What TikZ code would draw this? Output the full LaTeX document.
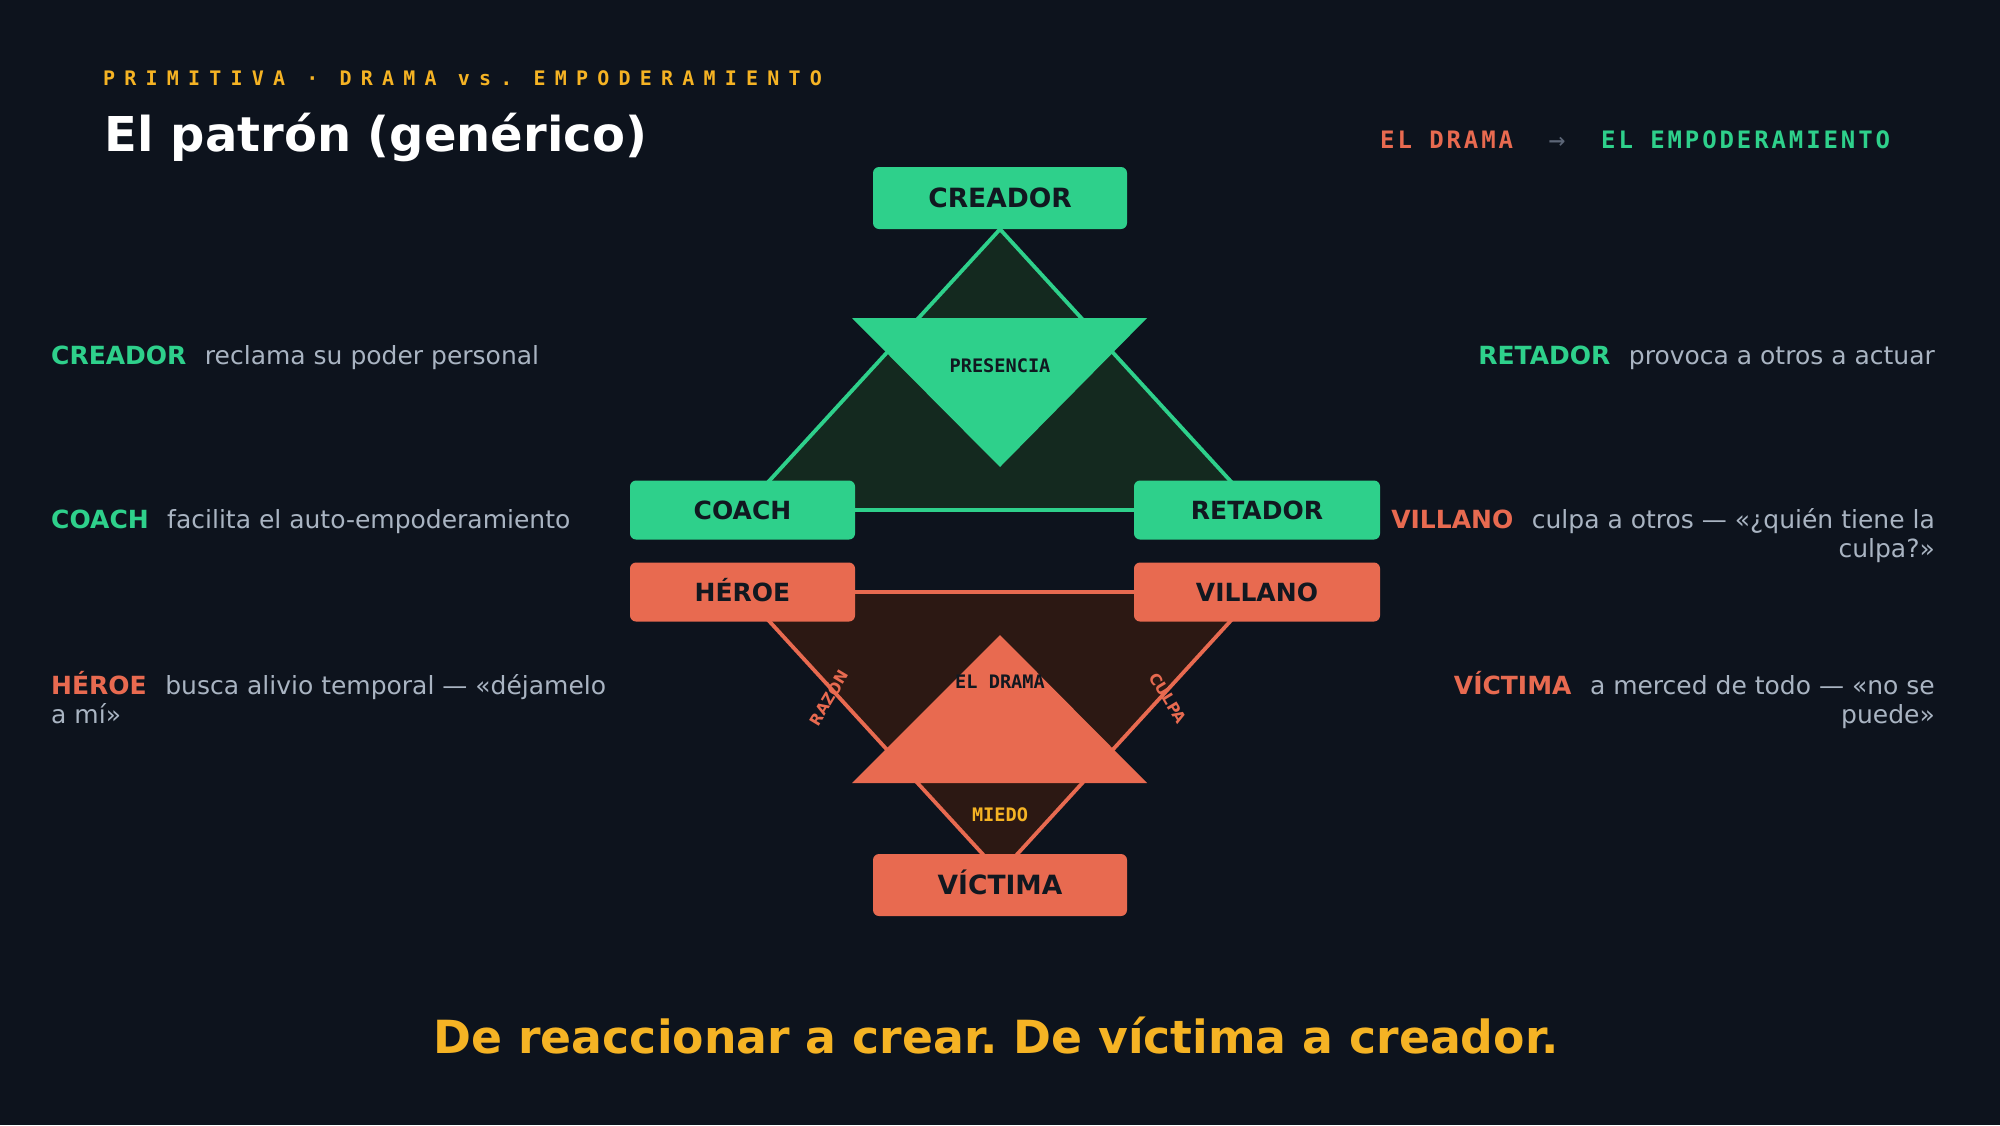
\documentclass[tikz,border=0pt]{standalone}
\usepackage{fontspec}
\setmainfont{DejaVu Sans}
\newfontfamily\monoFont{DejaVu Sans Mono}
\newfontfamily\wideMono[LetterSpace=46]{DejaVu Sans Mono}
\newfontfamily\tagMono[LetterSpace=12]{DejaVu Sans Mono}
\usepackage{xcolor}
\usepackage{tikz}
\definecolor{pageBg}{HTML}{0D131D}
\definecolor{empGreen}{HTML}{2ED08B}
\definecolor{empShade}{HTML}{14291F}
\definecolor{dramCoral}{HTML}{E86A50}
\definecolor{dramShade}{HTML}{2C1813}
\definecolor{amberInk}{HTML}{F5B324}
\definecolor{boxInk}{HTML}{111820}
\definecolor{descInk}{HTML}{A9B4C2}
\definecolor{arrowInk}{HTML}{5C6677}
\newcommand{\sideTag}[2]{{\color{#1}\bfseries #2}\hspace{18.5pt}}
\newcommand{\graphLineWidth}{3.8pt}
\pgfdeclarelayer{backdrop}
\pgfdeclarelayer{shapes}
\pgfsetlayers{backdrop,shapes,main}
\frenchspacing

\begin{document}
\begin{tikzpicture}[x=1pt,y=-1pt,
	role/.style={rounded corners=6pt,inner sep=0pt,text=boxInk,font=\bfseries\fontsize{25}{30}\selectfont,minimum height=59pt,text height=18.2pt,text depth=0pt},
	roleBig/.style={role,minimum width=254pt,minimum height=62pt,font=\bfseries\fontsize{26.5}{32}\selectfont,text height=19.3pt},
	triText/.style={inner sep=0pt,font=\monoFont\bfseries\fontsize{18.6}{22}\selectfont,text height=13.6pt,text depth=0pt},
	edgeTag/.style={inner sep=0pt,text=dramCoral,font=\bfseries\fontsize{15.5}{18}\selectfont,text height=11.3pt,text depth=0pt},
	sideNote/.style={inner sep=0pt,text=descInk,font=\fontsize{25}{29}\selectfont}]
	\begin{pgfonlayer}{backdrop}
		\fill[pageBg] (0,0) rectangle (2000,1125);
	\end{pgfonlayer}
	\useasboundingbox (0,0) rectangle (2000,1125);

	% header
	\node[anchor=base west,inner sep=0pt,text=amberInk,font=\wideMono\bfseries\fontsize{20}{24}\selectfont] (kicker) at (103,85.5) {PRIMITIVA · DRAMA vs. EMPODERAMIENTO};
	\node[anchor=base west,inner sep=0pt,text=white,font=\bfseries\fontsize{48}{56}\selectfont] (title) at (104.5,151) {El patrón (genérico)};
	\node[anchor=base west,inner sep=0pt,text=dramCoral,font=\tagMono\bfseries\fontsize{24}{28}\selectfont] (dramaTag) at (1380,148) {EL DRAMA};
	\node[anchor=base,inner sep=0pt,text=arrowInk,font=\monoFont\fontsize{28}{32}\selectfont] (tagArrow) at (1557,149) {→};
	\node[anchor=base west,inner sep=0pt,text=empGreen,font=\tagMono\bfseries\fontsize{24}{28}\selectfont] (empTag) at (1601,148) {EL EMPODERAMIENTO};

	% roles
	\node[roleBig,fill=empGreen] (creador) at (1000,198) {CREADOR};
	\node[role,fill=empGreen,minimum width=225pt] (coach) at (742.5,510) {COACH};
	\node[role,fill=empGreen,minimum width=246pt] (retador) at (1257,510) {RETADOR};
	\node[role,fill=dramCoral,minimum width=225pt] (heroe) at (742.5,592) {HÉROE};
	\node[role,fill=dramCoral,minimum width=246pt] (villano) at (1257,592) {VILLANO};
	\node[roleBig,fill=dramCoral] (victima) at (1000,885) {VÍCTIMA};

	\coordinate (dramaApex) at (1000,873);
	\coordinate (presL) at (852,318);
	\coordinate (presR) at (1147,318);
	\coordinate (presTip) at (1000,467);
	\coordinate (dramL) at (852,783);
	\coordinate (dramR) at (1147,783);
	\coordinate (dramTip) at (1000,635);

	% triangles
	\begin{pgfonlayer}{shapes}
		\draw[line width=\graphLineWidth,draw=empGreen,fill=empShade] (creador.south) -- (coach.center) -- (retador.center) -- cycle;
		\draw[line width=\graphLineWidth,draw=dramCoral,fill=dramShade] (heroe.center) -- (villano.center) -- (dramaApex) -- cycle;
		\fill[empGreen] (presL) -- (presR) -- (presTip) -- cycle;
		\fill[dramCoral] (dramL) -- (dramR) -- (dramTip) -- cycle;
	\end{pgfonlayer}

	\node[triText,text=boxInk] (presencia) at (1000,366) {PRESENCIA};
	\node[triText,text=boxInk] (elDrama) at (1000,682) {EL DRAMA};
	\node[triText,text=amberInk] (miedo) at (1000,815) {MIEDO};
	\node[edgeTag,rotate=59] (razon) at (829,698) {RAZÓN};
	\node[edgeTag,rotate=-59] (culpa) at (1168,698) {CULPA};

	% side notes
	\node[sideNote,anchor=base west] (noteCreador) at (51,364) {\sideTag{empGreen}{CREADOR}reclama su poder personal};
	\node[sideNote,anchor=base west] (noteCoach) at (51,528) {\sideTag{empGreen}{COACH}facilita el auto-empoderamiento};
	\node[sideNote,anchor=base west] (noteHeroe) at (51,694) {\sideTag{dramCoral}{HÉROE}busca alivio temporal — «déjamelo};
	\node[sideNote,anchor=base west] (noteHeroeB) at (51,723) {a mí»};
	\node[sideNote,anchor=base east] (noteRetador) at (1935,364) {\sideTag{empGreen}{RETADOR}provoca a otros a actuar};
	\node[sideNote,anchor=base east] (noteVillano) at (1935,528) {\sideTag{dramCoral}{VILLANO}culpa a otros — «¿quién tiene la};
	\node[sideNote,anchor=base east] (noteVillanoB) at (1935,557) {culpa?»};
	\node[sideNote,anchor=base east] (noteVictima) at (1935,694) {\sideTag{dramCoral}{VÍCTIMA}a merced de todo — «no se};
	\node[sideNote,anchor=base east] (noteVictimaB) at (1935,723) {puede»};

	% tagline
	\node[anchor=base,inner sep=0pt,text=amberInk,font=\bfseries\fontsize{45.7}{54}\selectfont] (tagline) at (996,1053) {De reaccionar a crear. De víctima a creador.};
\end{tikzpicture}
\end{document}
